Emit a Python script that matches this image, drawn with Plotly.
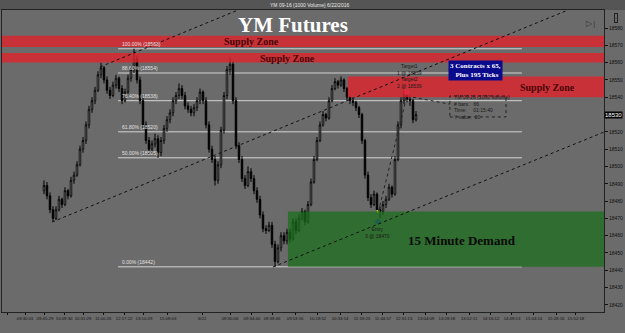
import plotly.graph_objects as go

# ---------------- data ----------------
opens = [18486,18489,18483,18475,18470,18475,18481,18478,18486,18483,
         18492,18495,18501,18510,18515,18524,18533,18538,18544,18553,
         18557,18550,18544,18541,18547,18551,18545,18538,18543,18551,
         18556,18562,18550,18538,18524,18515,18510,18513,18516,18508,
         18515,18522,18527,18531,18538,18541,18545,18541,18535,18533,
         18531,18534,18538,18543,18538,18524,18510,18504,18492,18501,
         18521,18541,18556,18559,18538,18512,18504,18493,18489,18497,
         18493,18486,18481,18472,18464,18463,18466,18455,18445,18453,
         18460,18457,18462,18458,18468,18463,18470,18474,18468,18478,
         18491,18504,18515,18524,18530,18528,18538,18545,18549,18547,
         18550,18545,18540,18538,18537,18534,18530,18515,18495,18482,
         18478,18484,18475,18474,18478,18481,18488,18484,18504,18524,
         18538,18541,18539,18538,18527]
highs = [18492,18491,18485,18477,18477,18483,18482,18488,18487,18494,
         18497,18503,18512,18517,18526,18535,18540,18546,18555,18560,
         18558,18552,18546,18549,18553,18552,18547,18545,18553,18558,
         18568,18564,18552,18540,18526,18517,18515,18519,18518,18517,
         18524,18529,18533,18540,18543,18548,18547,18543,18537,18535,
         18536,18540,18545,18544,18540,18526,18512,18506,18503,18523,
         18543,18558,18563,18561,18540,18514,18506,18495,18500,18499,
         18495,18488,18483,18474,18466,18468,18468,18457,18455,18462,
         18462,18464,18464,18470,18470,18472,18476,18475,18480,18493,
         18506,18517,18526,18532,18531,18540,18547,18551,18550,18552,
         18551,18546,18541,18540,18538,18535,18531,18516,18497,18484,
         18486,18485,18477,18480,18483,18490,18489,18506,18526,18540,
         18544,18543,18541,18539,18532]
lows = [18484,18481,18473,18468,18469,18474,18476,18477,18481,18482,
        18490,18494,18500,18508,18513,18522,18531,18536,18543,18551,
        18548,18542,18539,18540,18545,18543,18536,18537,18542,18549,
        18554,18548,18536,18522,18513,18507,18508,18511,18505,18506,
        18513,18520,18525,18529,18536,18539,18539,18533,18531,18529,
        18529,18532,18536,18536,18522,18508,18502,18489,18490,18499,
        18519,18539,18553,18536,18510,18502,18491,18487,18488,18491,
        18484,18479,18470,18462,18461,18462,18453,18442,18444,18451,
        18455,18455,18456,18457,18461,18462,18469,18466,18467,18477,
        18490,18503,18514,18523,18526,18527,18537,18544,18545,18546,
        18543,18538,18536,18535,18532,18528,18513,18493,18480,18476,
        18477,18473,18470,18472,18476,18480,18482,18483,18503,18522,
        18536,18537,18535,18525,18526]
closes = [18489,18483,18475,18470,18475,18481,18478,18486,18483,18492,
          18495,18501,18510,18515,18524,18533,18538,18544,18553,18557,
          18550,18544,18541,18547,18551,18545,18538,18543,18551,18556,
          18562,18550,18538,18524,18515,18510,18513,18516,18508,18515,
          18522,18527,18531,18538,18541,18545,18541,18535,18533,18531,
          18534,18538,18543,18538,18524,18510,18504,18492,18501,18521,
          18541,18556,18559,18538,18512,18504,18493,18489,18497,18493,
          18486,18481,18472,18464,18463,18466,18455,18445,18453,18460,
          18457,18462,18458,18468,18463,18470,18474,18468,18478,18491,
          18504,18515,18524,18530,18528,18538,18545,18549,18547,18550,
          18545,18540,18538,18537,18534,18530,18515,18495,18482,18478,
          18484,18475,18474,18478,18481,18488,18484,18504,18524,18538,
          18541,18539,18538,18527,18530]
bars = list(range(len(closes)))

tick_pos = [-12.3, -6.3, 0.3, 6.7, 13, 19.7, 26.7, 33.3, 41.3, 52.7, 62, 69.3, 76,
            83.7, 91.3, 98.7, 106, 113, 120, 127.3, 134.3, 141.7, 149, 156, 163.3,
            170.7, 177.3]
tick_labels = ["07:31:55", "09:30:01", "09:45:29", "10:09:30", "10:31:28", "11:00:26",
               "12:17:22", "13:10:29", "15:08:03", "6/22", "09:30:06", "09:34:40",
               "09:38:46", "09:53:16", "10:18:52", "10:33:14", "11:19:23", "11:44:57",
               "12:31:13", "13:04:09", "13:28:18", "13:52:11", "14:16:12", "14:48:13",
               "15:04:14", "15:28:16", "15:52:18"]
y_ticks = [18420, 18430, 18440, 18450, 18460, 18470, 18480, 18490, 18500,
           18510, 18520, 18540, 18550, 18560, 18570, 18580]

fib_pct = ["100.00%", "88.60%", "76.40%", "61.80%", "50.00%", "0.00%"]
fib_price = [18568, 18554, 18538, 18520, 18505, 18442]

supply_low = [18569, 18560, 18540]
supply_high = [18575.5, 18565.5, 18552]
supply_start = [-14, -14, 101.3]
demand_low, demand_high, demand_start = 18442, 18474, 81.3

trend_lines = [  # (x0, y0, x1, y1)
    (18.7, 18557.5, 64.7, 18590.4),
    (2.7, 18467.9, 174.7, 18590.4),
    (76.3, 18441.9, 186.7, 18519.9),
]
last_price = 18530
entry_price = 18470
target1, target2 = 18559, 18539

XMIN, XMAX = -14, 186.67
YMIN, YMAX = 18415.9, 18590.4

BG = "#6b6b6b"
SERIF = "Liberation Serif"

fig = go.Figure()
fig.add_trace(go.Candlestick(
    x=bars, open=opens, high=highs, low=lows, close=closes,
    increasing=dict(line=dict(color="#000000", width=1), fillcolor="#ffffff"),
    decreasing=dict(line=dict(color="#000000", width=1), fillcolor="#000000"),
    whiskerwidth=0, showlegend=False, hoverinfo="skip"))

# markers
fig.add_trace(go.Scatter(x=[111.3], y=[entry_price - 2], mode="markers",
                         marker=dict(symbol="diamond", size=5, color="#1f3fd0"),
                         showlegend=False, hoverinfo="skip"))
fig.add_trace(go.Scatter(x=[111.3], y=[entry_price + 4], mode="markers",
                         marker=dict(symbol="square", size=3, color="#9acd32"),
                         showlegend=False, hoverinfo="skip"))
fig.add_trace(go.Scatter(x=[120.9], y=[18543], mode="markers",
                         marker=dict(symbol="circle", size=5, color="#ff3fb0"),
                         showlegend=False, hoverinfo="skip"))

shapes = []
ann = []

# fib lines
for p, v in zip(fib_pct, fib_price):
    shapes.append(dict(type="line", xref="x", yref="y", x0=24.7, x1=159.3, y0=v, y1=v,
                       line=dict(color="#d4d4d4", width=1), layer="below"))
    ann.append(dict(xref="x", yref="y", x=25.3, y=v, text=f"{p} ({v})",
                    showarrow=False, xanchor="left", yanchor="bottom",
                    font=dict(size=5, color="#e0e0e0", family="Liberation Sans")))

# supply zones
for lo, hi, xs in zip(supply_low, supply_high, supply_start):
    shapes.append(dict(type="rect", xref="x", yref="y", x0=xs, x1=XMAX, y0=lo, y1=hi,
                       fillcolor="rgba(225,35,45,0.8)", line=dict(width=0), layer="above"))
# demand zone
shapes.append(dict(type="rect", xref="x", yref="y", x0=demand_start, x1=XMAX,
                   y0=demand_low, y1=demand_high,
                   fillcolor="rgba(25,110,25,0.72)", line=dict(width=0), layer="above"))

# trend lines
for x0, y0, x1, y1 in trend_lines:
    shapes.append(dict(type="line", xref="x", yref="y", x0=x0, y0=y0, x1=x1, y1=y1,
                       line=dict(color="#111111", width=1, dash="dot"), layer="above"))
# measure lines
shapes.append(dict(type="line", xref="x", yref="y", x0=111.5, y0=18474, x1=121, y1=18541,
                   line=dict(color="#222222", width=1, dash="dot"), layer="above"))
shapes.append(dict(type="line", xref="x", yref="y", x0=123, y0=18540, x1=135.3, y1=18536,
                   line=dict(color="#222222", width=1, dash="dot"), layer="above"))
# info box
shapes.append(dict(type="rect", xref="x", yref="y", x0=135.3, x1=154, y0=18528.6, y1=18540.7,
                   line=dict(color="#222222", width=1, dash="dot"), layer="above"))

# top strip
shapes.append(dict(type="rect", xref="paper", yref="paper", x0=-0.01, x1=1.04, y0=1.0, y1=1.034,
                   fillcolor="#555555", line=dict(width=0), layer="below"))

ann += [
    dict(xref="paper", yref="paper", x=0.51, y=1.0, yanchor="bottom",
         text="YM 09-16 (1000 Volume) 6/22/2016",
         showarrow=False, font=dict(size=5, color="#e8e8e8", family="Liberation Sans")),
    dict(xref="x", yref="y", x=83, y=18582.0, text="<b>YM Futures</b>", showarrow=False,
         font=dict(size=21, color="#ffffff", family=SERIF)),
    dict(xref="x", yref="y", x=69.3, y=18572.2, text="<b>Supply Zone</b>", showarrow=False,
         font=dict(size=10, color="#4a0606", family=SERIF)),
    dict(xref="x", yref="y", x=81, y=18562.6, text="<b>Supply Zone</b>", showarrow=False,
         font=dict(size=10, color="#4a0606", family=SERIF)),
    dict(xref="x", yref="y", x=167.7, y=18545.6, text="<b>Supply Zone</b>", showarrow=False,
         font=dict(size=10, color="#4a0606", family=SERIF)),
    dict(xref="x", yref="y", x=139.3, y=18457, text="<b>15 Minute Demand</b>", showarrow=False,
         font=dict(size=13, color="#0a0a0a", family=SERIF)),
    dict(xref="x", yref="y", x=143.7, y=18555.7,
         text="<b>3 Contracts x 65,<br>  Plus 195 Ticks</b>", showarrow=False,
         bgcolor="#0a0a8c", borderpad=1, align="center",
         font=dict(size=7, color="#ffffff", family=SERIF)),
    dict(xref="x", yref="y", x=121.7, y=18556, text=f"Target1<br>1 @ {target1}",
         showarrow=False, font=dict(size=5, color="#1a1a1a", family="Liberation Sans")),
    dict(xref="x", yref="y", x=121.7, y=18548.6, text=f"Target2<br>2 @ {target2}",
         showarrow=False, font=dict(size=5, color="#1a1a1a", family="Liberation Sans")),
    dict(xref="x", yref="y", x=111.3, y=18462, text=f"Entry<br>3 @ {entry_price}",
         showarrow=False, font=dict(size=5, color="#1a1a1a", family="Liberation Sans")),
    dict(xref="x", yref="y", x=136, y=18534.6, xanchor="left",
         text="YM 09-16 (1000 Volume)<br># bars:   66<br>Time:     01:15:40<br>Y value:  20",
         showarrow=False, align="left",
         font=dict(size=5, color="#1a1a1a", family="Liberation Sans")),
    dict(xref="paper", yref="y", x=1.0, y=last_price, xanchor="left", text=f"{last_price}",
         showarrow=False, bgcolor="#000000", borderpad=0,
         font=dict(size=6, color="#ffffff", family="Liberation Sans")),
    dict(xref="paper", yref="paper", x=0.99, y=0.985, text="▷|", showarrow=False,
         font=dict(size=8, color="#333333")),
    dict(xref="paper", yref="paper", x=1.024, y=0.99, text="-", showarrow=False,
         bordercolor="#222", borderwidth=1, borderpad=0,
         font=dict(size=6, color="#222222")),
]

fig.update_layout(
    width=625, height=333,
    margin=dict(l=2, r=21, t=10, b=21),
    paper_bgcolor=BG, plot_bgcolor=BG,
    shapes=shapes, annotations=ann,
    xaxis=dict(range=[XMIN, XMAX], rangeslider=dict(visible=False),
               tickvals=tick_pos, ticktext=tick_labels, ticks="outside", ticklen=2,
               tickangle=0, tickcolor="#111", showgrid=False, zeroline=False, showline=True,
               linecolor="#222", mirror=True,
               tickfont=dict(size=4.3, color="#111", family="Liberation Sans Narrow, Liberation Sans")),
    yaxis=dict(range=[YMIN, YMAX], side="right", tickvals=y_ticks, ticks="outside", ticklen=3,
               tickcolor="#111", showgrid=False, zeroline=False, showline=True,
               linecolor="#222", mirror=True, tickformat="d",
               tickfont=dict(size=5, color="#111", family="Liberation Sans")),
)

fig.write_html("out.html")
